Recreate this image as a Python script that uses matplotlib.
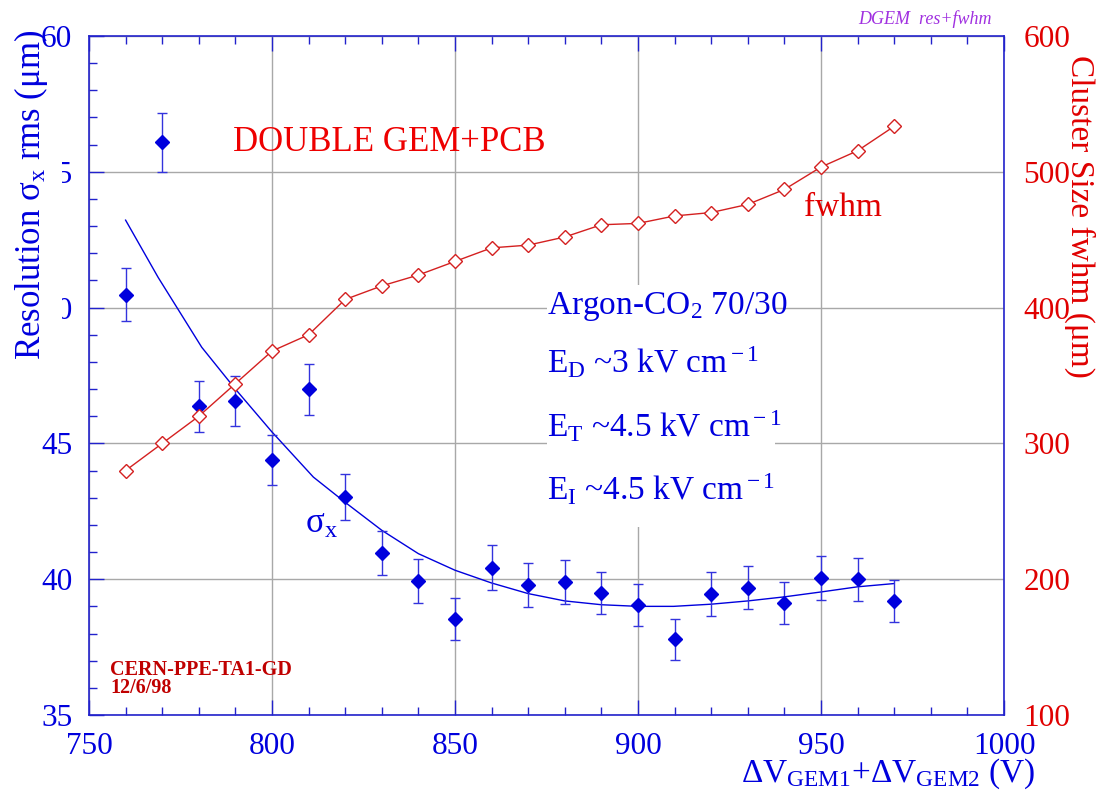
import matplotlib
matplotlib.use("Agg")
import matplotlib.pyplot as plt
from matplotlib.ticker import MultipleLocator
from matplotlib.patches import Rectangle

plt.rcParams["font.family"] = ["Liberation Serif", "DejaVu Serif"]
plt.rcParams["mathtext.fontset"] = "custom"
plt.rcParams["mathtext.rm"] = "Liberation Serif"
plt.rcParams["mathtext.it"] = "Liberation Serif:italic"

# Scan of the summed GEM voltage (V)
voltage = [760, 770, 780, 790, 800, 810, 820, 830, 840, 850, 860,
           870, 880, 890, 900, 910, 920, 930, 940, 950, 960, 970]

# Spatial resolution sigma_x rms (um) with errors
sigma = [50.48, 56.08, 46.37, 46.55, 44.40, 47.00, 43.03, 40.97, 39.93, 38.53, 40.43,
         39.79, 39.90, 39.50, 39.04, 37.78, 39.45, 39.68, 39.13, 40.05, 40.00, 39.19]
sigma_err = [0.99, 1.10, 0.94, 0.92, 0.92, 0.94, 0.85, 0.81, 0.81, 0.78, 0.82,
             0.81, 0.80, 0.78, 0.78, 0.74, 0.80, 0.79, 0.77, 0.80, 0.79, 0.77]

# Cluster size fwhm (um)
fwhm = [280, 300, 320, 344, 368, 380, 406, 416, 424, 434, 444,
        446, 452, 461, 462, 467.5, 470, 476, 487, 503.5, 515.5, 533.5]

# Fitted resolution curve
fit_v = [760, 768.9, 780.8, 790, 800, 811.3, 819.9, 830, 840, 850, 860,
         870, 880, 890, 900, 909.7, 920, 930, 940, 950, 960, 970]
fit_sigma = [53.22, 51.11, 48.54, 47.00, 45.42, 43.76, 42.84, 41.80, 40.94, 40.33, 39.86,
             39.47, 39.20, 39.06, 39.00, 39.00, 39.08, 39.20, 39.35, 39.53, 39.72, 39.84]

x_ticks = [750, 800, 850, 900, 950, 1000]
left_ticks = [35, 40, 45, 50, 55, 60]
right_ticks = [100, 200, 300, 400, 500, 600]

BLUE = "#0000dd"
AXBLUE = "#2222cc"
RED = "#e00000"
LINERED = "#d42020"

W, H = 1102, 799
fig = plt.figure(figsize=(W / 100, H / 100), dpi=100)
ax = fig.add_axes([89 / W, 1 - 715 / H, 915 / W, 679 / H])

ax.set_xlim(750, 1000)
ax.set_ylim(35, 60)
ax.set_xticks(x_ticks)
ax.set_yticks(left_ticks)
ax.xaxis.set_minor_locator(MultipleLocator(10))
ax.yaxis.set_minor_locator(MultipleLocator(1))
ax.grid(True, which="major", color="#a8a8a8", lw=1.0)
ax.set_axisbelow(True)
for s in ax.spines.values():
    s.set_color(AXBLUE)
    s.set_linewidth(1.2)
ax.tick_params(which="both", direction="in", top=True, right=True,
               colors=AXBLUE, labelcolor=BLUE, labelsize=22.5)
ax.tick_params(which="major", length=11, width=1)
ax.tick_params(which="minor", length=6, width=1)
ax.tick_params(axis="x", pad=12)
ax.tick_params(axis="y", pad=12)

# Resolution points and fit
ax.errorbar(voltage, sigma, yerr=sigma_err, fmt="D", color=BLUE, ms=7,
            ecolor="#3333dd", elinewidth=1, capsize=3.5, capthick=1, zorder=4)
ax.plot(fit_v, fit_sigma, color=BLUE, lw=1, zorder=3)

# Cluster size on the right-hand scale
ax2 = ax.twinx()
ax2.set_ylim(100, 600)
ax2.set_yticks(right_ticks)
for s in ax2.spines.values():
    s.set_visible(False)
ax2.tick_params(axis="y", length=0, labelcolor=RED, labelsize=22.5, pad=14)
ax2.plot(voltage, fwhm, color=LINERED, lw=1, marker="D", ms=6.8,
         mfc="white", mec=LINERED, mew=1)

# Annotations
ax.text(789.3, 55.77, "DOUBLE GEM+PCB", color="#ee0000", fontsize=25, va="baseline")
ax.text(945.4, 53.38, "fwhm", color=RED, fontsize=24, va="baseline")
ax.text(809, 41.69, r"σ$_{\rm x}$", color=BLUE, fontsize=25, va="baseline")

ax.add_patch(Rectangle((0.5005, 0.2769), 0.2492, 0.3564, transform=ax.transAxes,
                       fc="white", ec="none", zorder=2.5))
gas_lines = [r"Argon-CO$_{\rm 2}$ 70/30",
             r"E$_{\rm D}$ ~3 kV cm$^{\rm -1}$",
             r"E$_{\rm T}$ ~4.5 kV cm$^{\rm -1}$",
             r"E$_{\rm I}$ ~4.5 kV cm$^{\rm -1}$"]
for txt, yb in zip(gas_lines, [49.78, 47.57, 45.22, 42.90]):
    ax.text(875.1, yb, txt, color=BLUE, fontsize=24, va="baseline", zorder=3)

fig.text(110 / W, 1 - 675 / H, "CERN-PPE-TA1-GD", color="#c00000",
         fontsize=14.5, fontweight="bold", va="baseline")
fig.text(110 / W, 1 - 693 / H, "12/6/98", color="#c00000",
         fontsize=14.5, fontweight="bold", va="baseline")
fig.text(992 / W, 1 - 24 / H, "DGEM  res+fwhm", color="#a030e0",
         fontsize=13, style="italic", ha="right", va="baseline")

# Axis titles
fig.patches.append(Rectangle((38 / W, 1 - 330 / H), 24 / W, 180 / H,
                             transform=fig.transFigure, fc="white", ec="none", zorder=5))
fig.text(12 / W, 1 - 30 / H, r"Resolution σ$_{\rm x}$ rms (μm)", color=BLUE,
         fontsize=25, rotation=90, ha="left", va="top", zorder=6)
fig.text(1080 / W, 1 - 55 / H, "Cluster Size fwhm (μm)", color=RED,
         fontsize=24, rotation=-90, ha="center", va="top", zorder=6)
fig.text(1035 / W, 1 - 782 / H, r"ΔV$_{\rm GEM1}$+ΔV$_{\rm GEM2}$ (V)", color=BLUE,
         fontsize=24, ha="right", va="baseline")

fig.savefig("out.png", dpi=100)
